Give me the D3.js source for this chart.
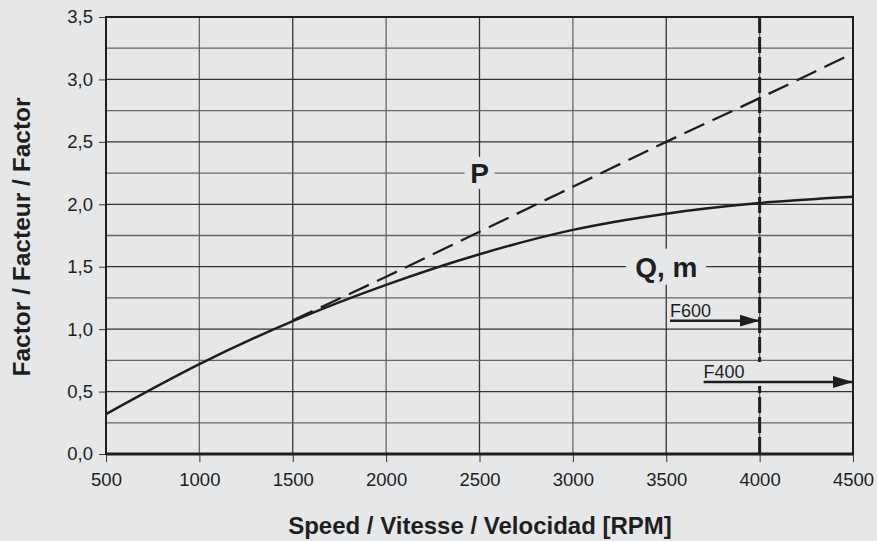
<!DOCTYPE html>
<html>
<head>
<meta charset="utf-8">
<script src="https://cdn.jsdelivr.net/npm/d3@7"></script>
<style>
  body { margin: 0; background: #e6e7e9; }
  svg { display: block; font-family: "Liberation Sans", Arial, sans-serif; }
</style>
</head>
<body>
<script>
// Data
var speedTicks = [500, 1000, 1500, 2000, 2500, 3000, 3500, 4000, 4500];
var factorTicks = [0, 0.5, 1, 1.5, 2, 2.5, 3, 3.5];
var qmSpeed = [500, 1000, 1500, 2000, 2500, 3000, 3500, 4000, 4500];
var qmFactor = [0.32, 0.72, 1.065, 1.355, 1.6, 1.795, 1.925, 2.01, 2.06];
var pSpeed = [1500, 2000, 2500, 3000, 3500, 4000, 4500];
var pFactor = [1.07, 1.42, 1.78, 2.14, 2.5, 2.85, 3.21];
var limitSpeed = 4000;
var f600 = { label: "F600", from: 3520, to: 4000, y: 1.068 };
var f400 = { label: "F400", from: 3700, to: 4500, y: 0.577 };

const width = 877, height = 541;
const bg = "#e6e7e9";
const ink = "#1e1e1e";

let svg = d3.select("body").append("svg")
    .attr("width", width)
    .attr("height", height);

let x = d3.scaleLinear().domain([500, 4500]).range([106, 853]);
let y = d3.scaleLinear().domain([0, 3.5]).range([454, 17]);

// Grid
let grid = svg.append("g");
grid.selectAll("line.v")
    .data(speedTicks)
    .enter().append("line")
    .attr("x1", d => x(d)).attr("x2", d => x(d))
    .attr("y1", y(3.5)).attr("y2", y(0))
    .attr("stroke", (d, i) => i % 2 ? "#666" : "#333")
    .attr("stroke-width", 1.3);

grid.selectAll("line.h")
    .data(d3.range(0, 3.5001, 0.25))
    .enter().append("line")
    .attr("x1", x(500)).attr("x2", x(4500))
    .attr("y1", d => y(d)).attr("y2", d => y(d))
    .attr("stroke", (d, i) => i % 2 ? "#666" : "#333")
    .attr("stroke-width", 1.3);

// Axes
let xAxis = svg.append("g")
    .attr("transform", `translate(0,${y(0)})`)
    .call(d3.axisBottom(x).tickValues(speedTicks).tickSize(8).tickPadding(11).tickFormat(d3.format("d")));
xAxis.select(".domain").remove();
xAxis.selectAll("line").attr("stroke", "#333");
xAxis.selectAll("text").attr("font-size", 18.5).attr("fill", ink);

let yAxis = svg.append("g")
    .attr("transform", `translate(${x(500)},0)`)
    .call(d3.axisLeft(y).tickValues(factorTicks).tickSize(7).tickPadding(6)
        .tickFormat(d => d3.format(".1f")(d).replace(".", ",")));
yAxis.select(".domain").remove();
yAxis.selectAll("line").attr("stroke", "#333");
yAxis.selectAll("text").attr("font-size", 18.5).attr("fill", ink);

// Frame
svg.append("rect")
    .attr("x", x(500)).attr("y", y(3.5))
    .attr("width", x(4500) - x(500)).attr("height", y(0) - y(3.5))
    .attr("fill", "none").attr("stroke", ink).attr("stroke-width", 2);
svg.append("line")
    .attr("x1", x(500)).attr("x2", x(4500))
    .attr("y1", y(0)).attr("y2", y(0))
    .attr("stroke", ink).attr("stroke-width", 3);

// Speed limit line
svg.append("line")
    .attr("x1", x(limitSpeed)).attr("x2", x(limitSpeed))
    .attr("y1", y(3.5)).attr("y2", y(0))
    .attr("stroke", ink).attr("stroke-width", 3)
    .attr("stroke-dasharray", "16,4");

// Curves
let line = d3.line()
    .x(d => x(d[0]))
    .y(d => y(d[1]))
    .curve(d3.curveMonotoneX);

svg.append("path")
    .datum(d3.zip(pSpeed, pFactor))
    .attr("d", line)
    .attr("fill", "none")
    .attr("stroke", ink).attr("stroke-width", 2.3)
    .attr("stroke-dasharray", "22,9");

svg.append("path")
    .datum(d3.zip(qmSpeed, qmFactor))
    .attr("d", line)
    .attr("fill", "none")
    .attr("stroke", ink).attr("stroke-width", 2.5);

// Curve labels with background boxes
let addLabel = (txt, sx, sy, w, h) => {
    svg.append("rect")
        .attr("x", x(sx) - w / 2).attr("y", y(sy) - h / 2)
        .attr("width", w).attr("height", h)
        .attr("fill", bg);
    svg.append("text")
        .attr("x", x(sx)).attr("y", y(sy) + 10)
        .attr("text-anchor", "middle")
        .attr("font-size", 28).attr("font-weight", "bold")
        .attr("fill", ink)
        .text(txt);
};
addLabel("P", 2500, 2.25, 30, 32);
addLabel("Q, m", 3500, 1.5, 80, 36);

// Gap in the limit line behind F400 label
svg.append("rect")
    .attr("x", x(limitSpeed) - 3).attr("y", y(f400.y) - 20)
    .attr("width", 6).attr("height", 24)
    .attr("fill", bg);

// Arrows
svg.append("defs").append("marker")
    .attr("id", "arrow")
    .attr("viewBox", "0 0 20 12")
    .attr("refX", 20).attr("refY", 6)
    .attr("markerWidth", 20).attr("markerHeight", 12)
    .attr("markerUnits", "userSpaceOnUse")
    .attr("orient", "auto")
    .append("path")
    .attr("d", "M0,0 L20,6 L0,12 Z")
    .attr("fill", ink);

[f600, f400].forEach(a => {
    svg.append("line")
        .attr("x1", x(a.from)).attr("x2", x(a.to))
        .attr("y1", y(a.y)).attr("y2", y(a.y))
        .attr("stroke", ink).attr("stroke-width", 2.5)
        .attr("marker-end", "url(#arrow)");
    svg.append("text")
        .attr("x", x(a.from)).attr("y", y(a.y) - 4)
        .attr("font-size", 18).attr("fill", ink)
        .text(a.label);
});

// Axis titles
svg.append("text")
    .attr("x", 480).attr("y", 534)
    .attr("text-anchor", "middle")
    .attr("font-size", 24).attr("font-weight", "bold").attr("fill", ink)
    .text("Speed / Vitesse / Velocidad [RPM]");

svg.append("text")
    .attr("transform", "translate(30,237) rotate(-90)")
    .attr("text-anchor", "middle")
    .attr("font-size", 24.5).attr("font-weight", "bold").attr("fill", ink)
    .text("Factor / Facteur / Factor");
</script>
</body>
</html>
